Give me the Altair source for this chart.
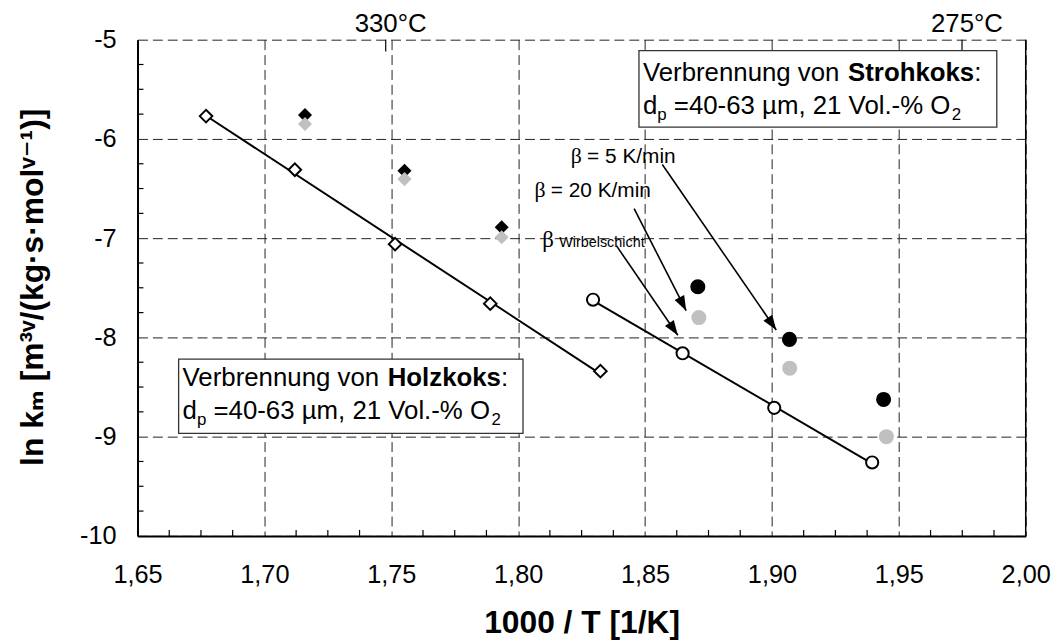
import math
import altair as alt
import pandas as pd

# ---------------- data ----------------
holz_x = [1.677, 1.712, 1.7515, 1.789, 1.8324]          # open diamonds (Holzkoks)
holz_y = [-5.77, -6.31, -7.06, -7.66, -8.34]
holz_black_x = [1.716, 1.7552, 1.7935]                   # filled black diamonds
holz_black_y = [-5.76, -6.32, -6.89]
holz_gray_x = [1.716, 1.7552, 1.7935]                    # filled grey diamonds
holz_gray_y = [-5.85, -6.405, -6.99]
wirbel_x = [1.8295, 1.8648, 1.9009, 1.9395]              # open circles (Strohkoks, Wirbelschicht)
wirbel_y = [-7.62, -8.16, -8.71, -9.26]
stroh_black_x = [1.8708, 1.9069, 1.944]                  # filled black circles
stroh_black_y = [-7.49, -8.02, -8.625]
stroh_gray_x = [1.8712, 1.907, 1.9451]                   # filled grey circles
stroh_gray_y = [-7.80, -8.31, -9.00]

x_tick_values = [1.65, 1.70, 1.75, 1.80, 1.85, 1.90, 1.95, 2.00]
y_tick_values = [-10, -9, -8, -7, -6, -5]
x_minor = [1.6625, 1.675, 1.6875, 1.7125, 1.725, 1.7375, 1.7625, 1.775, 1.7875,
           1.8125, 1.825, 1.8375, 1.8625, 1.875, 1.8875, 1.9125, 1.925, 1.9375,
           1.9625, 1.975, 1.9875]
y_minor = [-9.75, -9.5, -9.25, -8.75, -8.5, -8.25, -7.75, -7.5, -7.25,
           -6.75, -6.5, -6.25, -5.75, -5.5, -5.25]
top_tick_x = [1.7478, 1.9749]
top_tick_labels = ["330°C", "275°C"]

x_title = "1000 / T [1/K]"
y_title = "ln kₘ  [m³ᵛ/(kg·s·molᵛ⁻¹)]"

# annotation boxes: (left, right, top, bottom, baseline1, baseline2, fuel name)
boxes = [
    (1.8476, 1.9886, -5.11, -5.881, -5.412, -5.745, "Strohkoks"),
    (1.6662, 1.8019, -8.219, -8.967, -8.49, -8.824, "Holzkoks"),
]
# arrows: start x, start y, tip x, tip y
arrow_start_x = [1.8568, 1.8457, 1.8387]
arrow_start_y = [-6.258, -6.702, -7.075]
arrow_tip_x = [1.9017, 1.8662, 1.8629]
arrow_tip_y = [-7.925, -7.731, -7.978]
beta_labels = ["= 5 K/min", "= 20 K/min"]
beta_label_x = [1.8207, 1.8064]
beta_label_y = [-6.242, -6.585]
wirbel_label_x = 1.8095
wirbel_label_y = -7.092

# ---------------- layout / style ----------------
W, H = 895, 500
XMIN, XMAX = 1.65, 2.00
YMIN, YMAX = -10.0, -5.0
PXX = W / (XMAX - XMIN)
PXY = H / (YMAX - YMIN)
FONT = "Liberation Sans, Arial, Helvetica, DejaVu Sans, sans-serif"
SERIF = "Liberation Serif, Times New Roman, DejaVu Serif, serif"
GRAY = "#c0c0c0"

xs = alt.Scale(domain=[XMIN, XMAX], nice=False, zero=False)
ys = alt.Scale(domain=[YMIN, YMAX], nice=False, zero=False)


def X(f="x", axis=None):
    return alt.X(f"{f}:Q", scale=xs, axis=axis)


def Y(f="y", axis=None):
    return alt.Y(f"{f}:Q", scale=ys, axis=axis)


# Arial / Liberation Sans advance widths (per 1000 em)
REG = {' ': 278, 'V': 667, 'e': 556, 'r': 333, 'b': 556, 'n': 556, 'u': 556, 'g': 556,
       'v': 500, 'o': 556, ':': 278, 'd': 556, 'p': 556, '=': 584, '4': 556, '0': 556,
       '-': 333, '6': 556, '3': 556, 'µ': 576, 'm': 833, ',': 278, '2': 556, '1': 556,
       'l': 222, '.': 278, '%': 889, 'O': 778}
BLD = {'S': 667, 't': 333, 'r': 389, 'o': 611, 'h': 611, 'k': 556, 's': 556,
       'H': 722, 'l': 278, 'z': 500}


def tw(s, fs, bold=False):
    tab = BLD if bold else REG
    return sum(tab.get(c, 556) for c in s) * fs / 1000.0


FS = 26
SUB = 17
SPACE = tw(" ", FS)
rows_reg, rows_bold, rects = [], [], []
for (l, r, t, b, bl1, bl2, name) in boxes:
    rects.append({"x": l, "x2": r, "y": t, "y2": b})
    x0 = l + 4 / PXX
    # line 1
    off = 0.0
    rows_reg.append({"x": x0, "y": bl1, "t": "Verbrennung von", "fs": FS})
    off += tw("Verbrennung von ", FS)
    rows_bold.append({"x": x0 + off / PXX, "y": bl1, "t": name, "fs": FS})
    off += tw(name, FS, True)
    rows_reg.append({"x": x0 + off / PXX, "y": bl1, "t": ":", "fs": FS})
    # line 2 with subscripts
    off = 0.0
    rows_reg.append({"x": x0, "y": bl2, "t": "d", "fs": FS})
    off += tw("d", FS)
    rows_reg.append({"x": x0 + off / PXX, "y": bl2 - 6 / PXY, "t": "p", "fs": SUB})
    off += tw("p", SUB) + SPACE
    mid = "=40-63 µm, 21 Vol.-% O"
    rows_reg.append({"x": x0 + off / PXX, "y": bl2, "t": mid, "fs": FS})
    off += tw(mid, FS)
    rows_reg.append({"x": x0 + off / PXX, "y": bl2 - 6 / PXY, "t": "2", "fs": SUB})

# beta labels
beta_rows = [{"x": bx, "y": by, "fs": 22} for bx, by in zip(beta_label_x, beta_label_y)]
beta_rows.append({"x": wirbel_label_x, "y": wirbel_label_y, "fs": 23})
for txt, bx, by in zip(beta_labels, beta_label_x, beta_label_y):
    rows_reg.append({"x": bx + 16.5 / PXX, "y": by, "t": txt, "fs": 21})
rows_reg.append({"x": wirbel_label_x + 17 / PXX, "y": wirbel_label_y, "t": "Wirbelschicht", "fs": 14.5})

# arrows
arrows = []
for sx, sy, tx, ty in zip(arrow_start_x, arrow_start_y, arrow_tip_x, arrow_tip_y):
    dxp = (tx - sx) * PXX
    dyp = (sy - ty) * PXY
    ang = math.degrees(math.atan2(dxp, -dyp)) % 360
    arrows.append({"x": sx, "y": sy, "x2": tx, "y2": ty, "ang": ang})

df_open = pd.DataFrame(
    {"x": holz_x + wirbel_x, "y": holz_y + wirbel_y,
     "s": ["holz"] * len(holz_x) + ["wirbel"] * len(wirbel_x)})
df_holz = pd.DataFrame({"x": holz_x, "y": holz_y})
df_wirbel = pd.DataFrame({"x": wirbel_x, "y": wirbel_y})
df_hb = pd.DataFrame({"x": holz_black_x, "y": holz_black_y})
df_hg = pd.DataFrame({"x": holz_gray_x, "y": holz_gray_y})
df_sb = pd.DataFrame({"x": stroh_black_x, "y": stroh_black_y})
df_sg = pd.DataFrame({"x": stroh_gray_x, "y": stroh_gray_y})

# ---------------- layers ----------------
x_axis = alt.Axis(
    values=x_tick_values, labelExpr="replace(format(datum.value, '.2f'), '.', ',')",
    labelFont=FONT, labelFontSize=25.5, labelColor="black", labelPadding=26.5,
    labelFlush=False, labelOverlap=False, ticks=False, tickSize=0,
    domainColor="black", domainWidth=2,
    grid=True, gridColor="#222", gridDash=[10, 5], gridWidth=1, gridOpacity=1,
    title=x_title, titleFont=FONT, titleFontSize=32, titleFontWeight="bold",
    titleColor="black", titleX=W / 2, titleY=97.5, titleAlign="center",
    titleBaseline="alphabetic")
y_axis = alt.Axis(
    values=y_tick_values, labelExpr="'' + datum.value",
    labelFont=FONT, labelFontSize=25.5, labelColor="black", labelPadding=21.5,
    labelFlush=False, labelOverlap=False, ticks=False, tickSize=0,
    domainColor="black", domainWidth=2,
    grid=True, gridColor="#222", gridDash=[10, 5], gridWidth=1, gridOpacity=1,
    title=y_title, titleFont=FONT, titleFontSize=32, titleFontWeight="bold",
    titleColor="black", titleAngle=270, titleX=-96.2, titleY=H / 2 - 1,
    titleAlign="center", titleBaseline="alphabetic")

axis_host = alt.Chart(df_holz).mark_point(opacity=0, size=1).encode(
    x=X(axis=x_axis), y=Y(axis=y_axis))

minor_x = alt.Chart(pd.DataFrame({"x": x_minor})).mark_rule(
    color="black", strokeWidth=1.2).encode(x=X(), y=alt.value(H), y2=alt.value(H - 6))
minor_y = alt.Chart(pd.DataFrame({"y": y_minor})).mark_rule(
    color="black", strokeWidth=1.2).encode(y=Y(), x=alt.value(0), x2=alt.value(6))
top_ticks = alt.Chart(pd.DataFrame({"x": top_tick_x})).mark_rule(
    color="black", strokeWidth=1.2).encode(x=X(), y=alt.value(0), y2=alt.value(12))
top_text = alt.Chart(pd.DataFrame({"x": top_tick_x, "t": top_tick_labels})).mark_text(
    font=FONT, fontSize=26, color="black", baseline="alphabetic", align="center",
    dx=5, dy=-7.5).encode(x=X(), y=alt.value(0), text="t:N")
right_border = alt.Chart(pd.DataFrame({"x": [XMAX]})).mark_rule(
    color="black", strokeWidth=1.5).encode(x=X(), y=alt.value(0), y2=alt.value(H))

box_layer = alt.Chart(pd.DataFrame(rects)).mark_rect(
    fill="white", stroke="#333", strokeWidth=1.3).encode(
    x=X(), x2="x2:Q", y=Y(), y2="y2:Q")

fit = alt.Chart(df_open).transform_regression("x", "y", groupby=["s"]).mark_line(
    color="black", strokeWidth=2).encode(x=X(), y=Y(), detail="s:N")

hb = alt.Chart(df_hb).mark_point(shape="diamond", filled=True, color="black", size=200,
                                  opacity=1).encode(x=X(), y=Y())
hg = alt.Chart(df_hg).mark_point(shape="diamond", filled=True, color=GRAY, size=200,
                                  opacity=1).encode(x=X(), y=Y())
sb = alt.Chart(df_sb).mark_point(shape="circle", filled=True, color="black", size=230,
                                  opacity=1).encode(x=X(), y=Y())
sg = alt.Chart(df_sg).mark_point(shape="circle", filled=True, color=GRAY, size=230,
                                  opacity=1).encode(x=X(), y=Y())
open_d = alt.Chart(df_holz).mark_point(shape="diamond", filled=False, fill="white",
                                        stroke="black", strokeWidth=2, size=160,
                                        opacity=1).encode(x=X(), y=Y())
open_c = alt.Chart(df_wirbel).mark_point(shape="circle", filled=False, fill="white",
                                          stroke="black", strokeWidth=2, size=150,
                                          opacity=1).encode(x=X(), y=Y())

arrow_lines = alt.Chart(pd.DataFrame(arrows)).mark_rule(
    color="black", strokeWidth=1.6).encode(x=X(), y=Y(), x2="x2:Q", y2="y2:Q")
arrow_heads = alt.Chart(pd.DataFrame(arrows)).mark_point(
    shape="M0,0 L0.36,1 L-0.36,1 Z", filled=True, color="black", size=900,
    opacity=1, strokeWidth=0).encode(
    x=X("x2"), y=Y("y2"), angle=alt.Angle("ang:Q", scale=None))

txt_reg = alt.Chart(pd.DataFrame(rows_reg)).mark_text(
    font=FONT, color="black", align="left", baseline="alphabetic").encode(
    x=X(), y=Y(), text="t:N", size=alt.Size("fs:Q", scale=None))
txt_bold = alt.Chart(pd.DataFrame(rows_bold)).mark_text(
    font=FONT, fontWeight="bold", color="black", align="left", baseline="alphabetic").encode(
    x=X(), y=Y(), text="t:N", size=alt.Size("fs:Q", scale=None))
beta_df = pd.DataFrame(beta_rows)
beta_df["t"] = "β"
txt_beta = alt.Chart(beta_df).mark_text(
    font=SERIF, color="black", align="left", baseline="alphabetic").encode(
    x=X(), y=Y(), text="t:N", size=alt.Size("fs:Q", scale=None))

chart = alt.layer(
    axis_host, minor_x, minor_y, top_ticks, right_border, box_layer, fit,
    hb, hg, sb, sg, open_d, open_c, arrow_lines, arrow_heads,
    txt_reg, txt_bold, txt_beta, top_text,
).resolve_axis(x="independent", y="independent").properties(
    width=W, height=H,
    padding={"left": 130.5, "top": 29.5, "right": 28.5, "bottom": 106.5},
    autosize=alt.AutoSizeParams(type="none"),
    background="white",
).configure_view(stroke=None)

chart.save("out.html", embed_options={"renderer": "svg", "actions": False})
